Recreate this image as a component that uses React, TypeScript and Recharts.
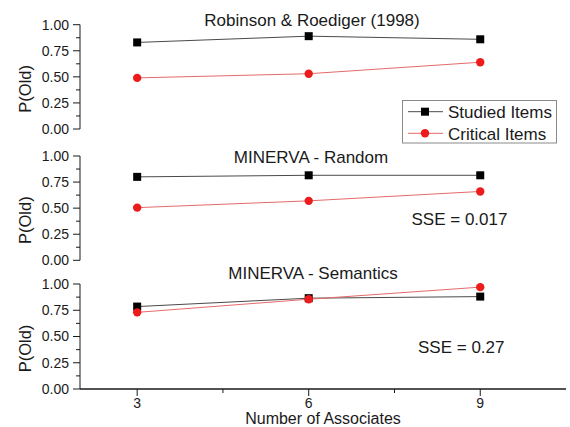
import { LineChart, Line, XAxis, YAxis } from "recharts";

// number of associates on the x axis
const associates = [3, 6, 9];

// Robinson & Roediger (1998)
const robinsonStudied = [0.83, 0.89, 0.86];
const robinsonCritical = [0.49, 0.53, 0.64];

// MINERVA - Random
const randomStudied = [0.8, 0.815, 0.815];
const randomCritical = [0.505, 0.57, 0.66];

// MINERVA - Semantics
const semanticStudied = [0.785, 0.865, 0.88];
const semanticCritical = [0.73, 0.855, 0.97];

const yTicks = [0, 0.125, 0.25, 0.375, 0.5, 0.625, 0.75, 0.875, 1];
const yLabels = [0, 0.25, 0.5, 0.75, 1];
const xTicks = [3, 4.5, 6, 7.5, 9];
const xLabels = [3, 6, 9];

const FONT = '"Liberation Sans", Arial, Helvetica, sans-serif';
const W = 570;
const H = 427;
const PLOT_RIGHT = 566;
const X_AXIS_H = 38;
const INK = "#1a1a1a";
const RED = "#ec1c1c";

const build = (studied: number[], critical: number[]) =>
  associates.map((n, i) => ({ n, studied: studied[i], critical: critical[i] }));

const YTick = (props: any) => {
  const { x, y, payload } = props;
  const v = payload.value;
  const major = yLabels.includes(v);
  return (
    <g>
      <line x1={x - (major ? 7 : 4)} x2={x} y1={y} y2={y} stroke={INK} strokeWidth={1} />
      {major && (
        <text x={x - 11} y={y} dy="0.35em" textAnchor="end" fontSize={14} fill={INK} fontFamily={FONT}>
          {v.toFixed(2)}
        </text>
      )}
    </g>
  );
};

const XTick = (props: any) => {
  const { x, y, payload } = props;
  const v = payload.value;
  const major = xLabels.includes(v);
  return (
    <g>
      <line x1={x} x2={x} y1={y} y2={y + (major ? 7 : 4)} stroke={INK} strokeWidth={1} />
      {major && (
        <text x={x} y={y + 18.5} textAnchor="middle" fontSize={14} fill={INK} fontFamily={FONT}>
          {v}
        </text>
      )}
    </g>
  );
};

const SquareDot = (p: any) =>
  p.cx == null ? null : (
    <rect key={`sq-${p.index}`} x={p.cx - 4} y={p.cy - 4} width={8} height={8} fill="#000" />
  );

const RoundDot = (p: any) =>
  p.cx == null ? null : <circle key={`ci-${p.index}`} cx={p.cx} cy={p.cy} r={4.2} fill={RED} />;

const YLabel = (props: any) => {
  const { viewBox } = props;
  const cx = 25;
  const cy = viewBox.y + viewBox.height / 2 + 12;
  return (
    <text
      x={cx}
      y={cy}
      transform={`rotate(-90 ${cx} ${cy})`}
      textAnchor="middle"
      dominantBaseline="central"
      fontSize={16.5}
      fill={INK}
      fontFamily={FONT}
    >
      P(Old)
    </text>
  );
};

const XLabel = (props: any) => {
  const { viewBox } = props;
  return (
    <text
      x={viewBox.x + viewBox.width / 2}
      y={viewBox.y + 34.5}
      textAnchor="middle"
      fontSize={16}
      fill={INK}
      fontFamily={FONT}
    >
      Number of Associates
    </text>
  );
};

interface PanelProps {
  studied: number[];
  critical: number[];
  top: number;
  bottom: number;
  showX?: boolean;
  children?: any;
}

function Panel({ studied, critical, top, bottom, showX = false, children }: PanelProps) {
  return (
    <div style={{ position: "absolute", left: 0, top: 0 }}>
      <LineChart
        width={W}
        height={H}
        data={build(studied, critical)}
        margin={{ top, bottom: H - bottom - (showX ? X_AXIS_H : 0), left: 0, right: W - PLOT_RIGHT }}
      >
        <XAxis
          dataKey="n"
          type="number"
          domain={[2, 10.5]}
          ticks={xTicks}
          interval={0}
          hide={!showX}
          height={X_AXIS_H}
          axisLine={{ stroke: INK, strokeWidth: 1.3 }}
          tickLine={false}
          tickSize={0}
          tickMargin={0}
          tick={<XTick />}
          label={<XLabel />}
        />
        <YAxis
          type="number"
          domain={[0, 1]}
          ticks={yTicks}
          interval={0}
          width={80}
          axisLine={{ stroke: INK, strokeWidth: 1 }}
          tickLine={false}
          tickSize={0}
          tickMargin={0}
          tick={<YTick />}
          label={<YLabel />}
        />
        <Line
          dataKey="studied"
          stroke="#4a4a4a"
          strokeWidth={1}
          dot={SquareDot}
          activeDot={false}
          isAnimationActive={false}
        />
        <Line
          dataKey="critical"
          stroke="#e46a6a"
          strokeWidth={1}
          dot={RoundDot}
          activeDot={false}
          isAnimationActive={false}
        />
        {children}
      </LineChart>
    </div>
  );
}

const textStyle = { fontFamily: FONT, fill: INK };

export default function App() {
  return (
    <div style={{ position: "absolute", left: 0, top: 0, width: W, height: H, background: "#fff" }}>
      <Panel studied={semanticStudied} critical={semanticCritical} top={284} bottom={389} showX>
        <text x={313} y={279} textAnchor="middle" fontSize={17} style={textStyle}>
          MINERVA - Semantics
        </text>
        <text x={418} y={353} fontSize={17} style={textStyle}>
          SSE = 0.27
        </text>
      </Panel>
      <Panel studied={randomStudied} critical={randomCritical} top={156} bottom={260.3}>
        <text x={311} y={162.5} textAnchor="middle" fontSize={17} style={textStyle}>
          MINERVA - Random
        </text>
        <text x={411.5} y={225} fontSize={17} style={textStyle}>
          SSE = 0.017
        </text>
      </Panel>
      <Panel studied={robinsonStudied} critical={robinsonCritical} top={24.7} bottom={129}>
        <text x={312} y={26} textAnchor="middle" fontSize={17} style={textStyle}>
          Robinson &amp; Roediger (1998)
        </text>
        <g>
          <rect x={402.5} y={100.5} width={154} height={42.5} fill="#fff" stroke="#8a8a8a" strokeWidth={1} />
          <line x1={408} x2={443} y1={111.7} y2={111.7} stroke="#4a4a4a" strokeWidth={1} />
          <rect x={421} y={107.7} width={8} height={8} fill="#000" />
          <text x={448} y={118} fontSize={17} style={textStyle}>
            Studied Items
          </text>
          <line x1={408} x2={443} y1={133.3} y2={133.3} stroke="#e46a6a" strokeWidth={1} />
          <circle cx={425} cy={133.3} r={4.2} fill={RED} />
          <text x={448} y={139.5} fontSize={17} style={textStyle}>
            Critical Items
          </text>
        </g>
      </Panel>
    </div>
  );
}
